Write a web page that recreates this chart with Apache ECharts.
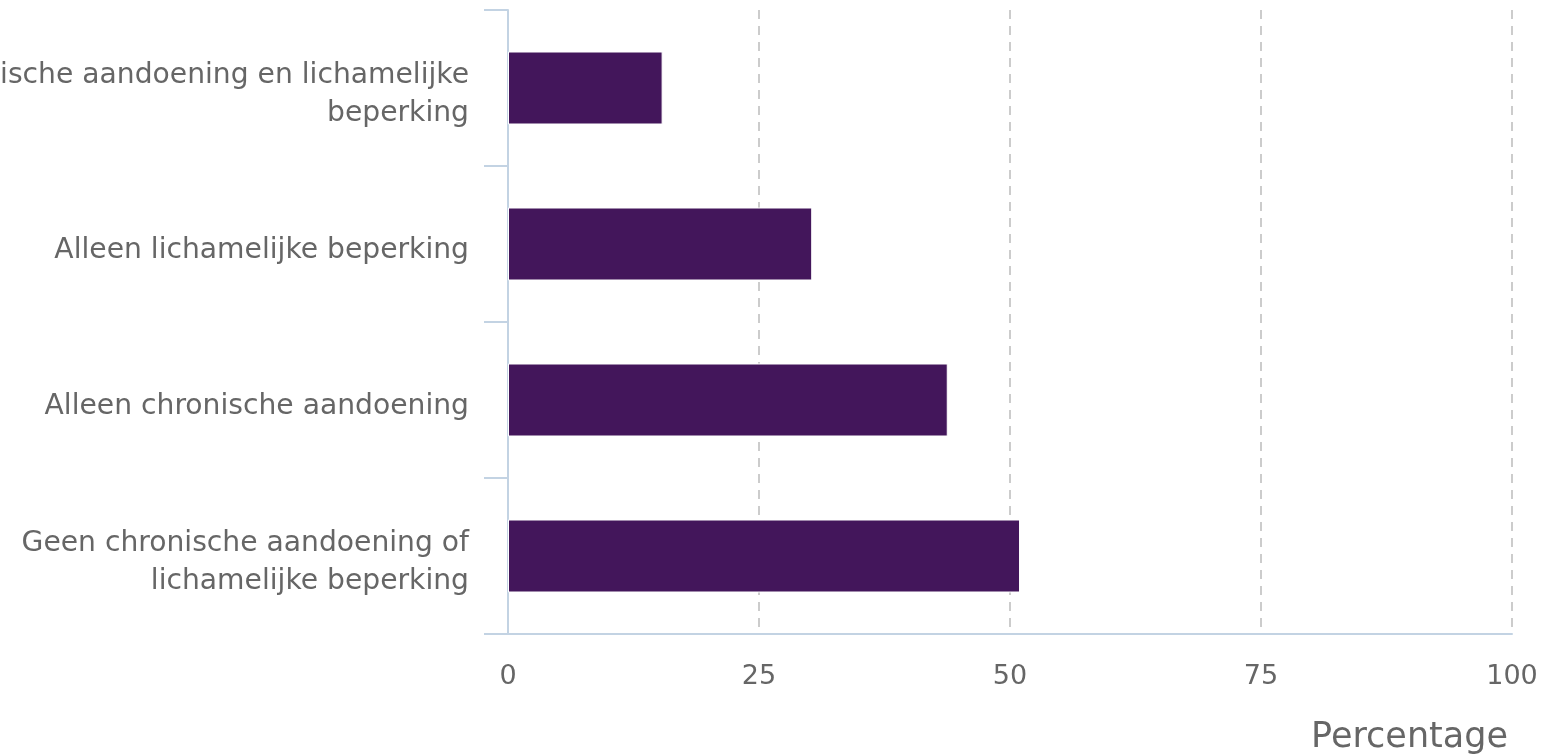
<!DOCTYPE html>
<html>
<head>
<meta charset="utf-8">
<script src="https://cdn.jsdelivr.net/npm/echarts@6/dist/echarts.min.js"></script>
<style>html,body{margin:0;padding:0;background:#fff}#c{width:1541px;height:756px}</style>
</head>
<body>
<div id="c"></div>
<script>
const categories = [
  "Chronische aandoening en lichamelijke\nbeperking",
  "Alleen lichamelijke beperking",
  "Alleen chronische aandoening",
  "Geen chronische aandoening of\nlichamelijke beperking"
];
const values = [15.4, 30.3, 43.8, 51.0];
const xTicks = [0, 25, 50, 75, 100];
const axisTitle = "Percentage";

const chart = echarts.init(document.getElementById('c'), null, {renderer: 'canvas'});
const font = 'DejaVu Sans';
chart.setOption({
  animation: false,
  grid: {left: 508, right: 29, top: 10, bottom: 122, containLabel: false, outerBoundsMode: 'none'},
  xAxis: {
    type: 'value', min: xTicks[0], max: xTicks[xTicks.length - 1], interval: 25,
    axisLine: {show: true, lineStyle: {color: '#c3d3e3', width: 2}},
    axisTick: {show: false},
    axisLabel: {color: '#666666', fontFamily: font, fontSize: 27, margin: 29},
    splitLine: {show: true, lineStyle: {color: '#cccccc', width: 2, type: [9, 7]}},
    name: axisTitle, nameLocation: 'end', nameGap: 0,
    nameTextStyle: {color: '#666666', fontFamily: font, fontSize: 35, align: 'right', verticalAlign: 'top', padding: [86, 4, 0, 0]}
  },
  yAxis: {
    type: 'category', data: categories, inverse: true,
    axisLine: {show: true, lineStyle: {color: '#c3d3e3', width: 2}},
    axisTick: {show: true, length: 24, lineStyle: {color: '#c3d3e3', width: 2}},
    axisLabel: {
      color: '#666666', fontFamily: font, fontSize: 28.2, lineHeight: 38, margin: 39, align: 'right',
      formatter: v => '{s| }\n' + v.split('\n').map(l => '{a|' + l + '}').join('\n'),
      rich: {
        s: {fontSize: 4, lineHeight: 14},
        a: {color: '#666666', fontFamily: font, fontSize: 28.2, lineHeight: 38, align: 'right'}
      }
    },
    splitLine: {show: false}
  },
  series: [{
    type: 'bar', data: values, barWidth: 73,
    itemStyle: {color: '#43165b', borderColor: '#ffffff', borderWidth: 1}
  }]
});
</script>
</body>
</html>
